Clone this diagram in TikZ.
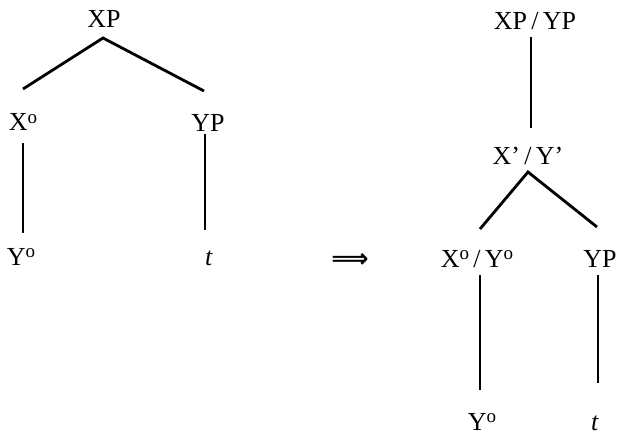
\documentclass[tikz,border=0pt]{standalone}
\usepackage{fontspec}
\setmainfont{Liberation Serif}
\newfontfamily\arrowfont{DejaVu Sans}
\usetikzlibrary{calc}
\tikzset{
  cat/.style={inner sep=0pt, anchor=base, font=\fontsize{26}{30}\selectfont},
  branch/.style={line width=2.8pt}
}
\newcommand{\zer}{\raisebox{0.28em}{\fontsize{19}{20}\selectfont o}}
\begin{document}
\begin{tikzpicture}[x=1pt, y=-1pt]
                \useasboundingbox (0,0) rectangle (617,435);
                % left tree
                \node[cat] (xp)  at (104,28)  {XP};
                \node[cat] (x0)  at (23,131)  {X\zer};
                \node[cat] (yp)  at (208,132) {YP};
                \node[cat] (y0)  at (21,265)  {Y\zer};
                \node[cat] (tl)  at (209,265) {\textit{t}};
                \draw[branch] ($(x0.base)+(0,-42)$) -- ($(xp.base)+(-1,10)$) -- ($(yp.base)+(-4,-41)$);
                \draw[branch] ($(x0.base)+(0,12)$) -- ($(y0.base)+(2,-32)$);
                \draw[branch] ($(yp.base)+(-3,2)$) -- ($(tl.base)+(-4,-35)$);

                \node[cat, font=\arrowfont\bfseries\fontsize{26}{30}\selectfont] (arr) at (350,267) {⟹};

                % right tree
                \node[cat] (xpyp) at (535,30)  {XP\,/\,YP};
                \node[cat] (xbar) at (528,165) {X’\,/\,Y’};
                \node[cat] (xy0)  at (477,267) {X\zer\,/\,Y\zer};
                \node[cat] (ypr)  at (600,267) {YP};
                \node[cat] (y0r)  at (482,430) {Y\zer};
                \node[cat] (tr)   at (595,430) {\textit{t}};
                \draw[branch] ($(xpyp.base)+(-4,7)$) -- ($(xbar.base)+(3,-37)$);
                \draw[branch] ($(xy0.base)+(3,-38)$) -- ($(xbar.base)+(0,7)$) -- ($(ypr.base)+(-3,-40)$);
                \draw[branch] ($(xy0.base)+(3,8)$) -- ($(y0r.base)+(-2,-40)$);
                \draw[branch] ($(ypr.base)+(-2,8)$) -- ($(tr.base)+(3,-47)$);
            \end{tikzpicture}
\end{document}
